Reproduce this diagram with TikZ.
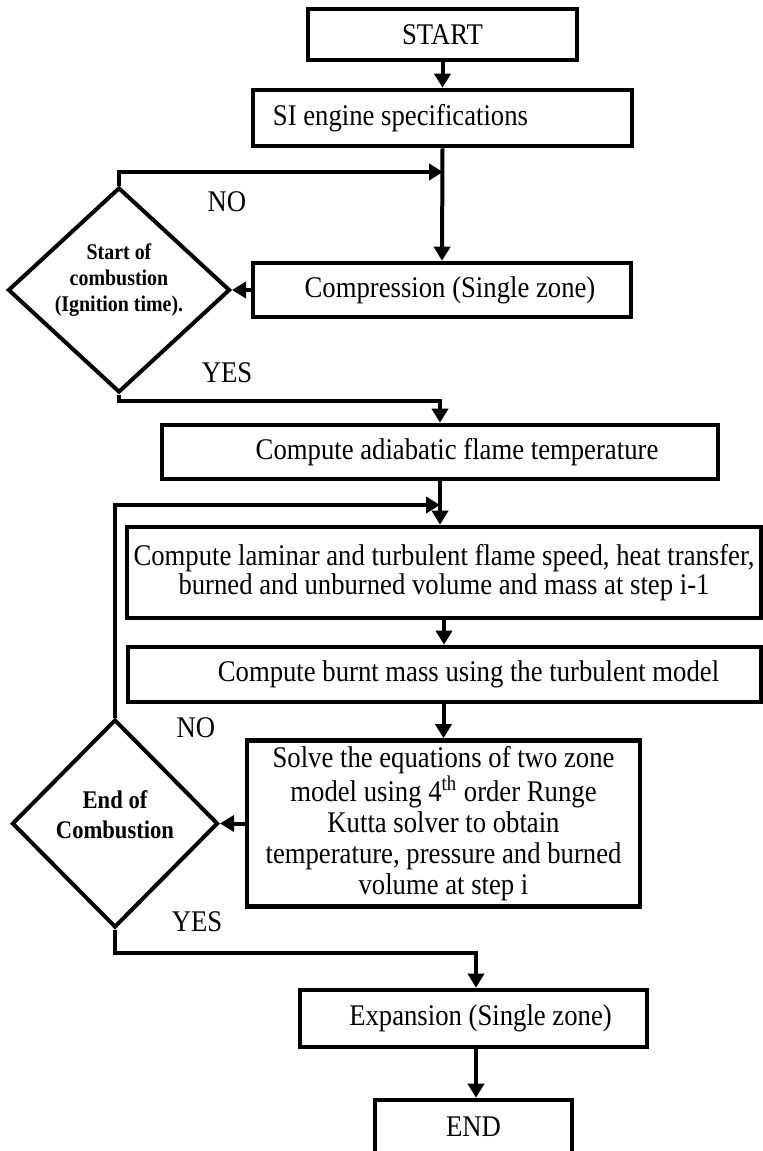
\documentclass[tikz,border=0pt]{standalone}
\usepackage{fontspec}
\setmainfont{Liberation Serif}[FakeStretch=0.89]
\usetikzlibrary{shapes.geometric,arrows.meta}

\begin{document}
\begin{tikzpicture}[x=0.5pt,y=-0.5pt,
	stepbox/.style={draw,line width=2.3pt,rectangle,inner sep=0pt,align=center,font=\fontsize{15}{15.5}\selectfont},
	decide/.style={draw,line width=2pt,diamond,inner sep=0pt},
	decidetext/.style={align=center,inner sep=0pt,font=\bfseries\fontsize{11.2}{13}\selectfont},
	arr/.style={line width=2pt,-{Triangle[length=7pt,width=8pt]}},
	lbl/.style={font=\fontsize{15}{15.5}\selectfont}]
\useasboundingbox (0,0) rectangle (763,1151);
\clip (0,0) rectangle (763,1151);

\node[stepbox,minimum width=134.5pt,minimum height=25.5pt] (start) at (442.5,34.5) {START};
\node[stepbox,minimum width=189.5pt,minimum height=28pt] (spec) at (442.5,118) {SI engine specifications\hspace*{42pt}};
\node[stepbox,minimum width=189pt,minimum height=27pt] (comp) at (442,290) {\hspace*{8pt}Compression (Single zone)};
\node[decide,minimum width=111pt,minimum height=102.5pt] (d1) at (119,290) {};
\node[decidetext] (d1t) at (119,280) {Start of\\combustion\\(Ignition time).};
\node[stepbox,minimum width=278pt,minimum height=27pt] (adia) at (440,452) {\hspace*{17pt}Compute adiabatic flame temperature};
\node[stepbox,minimum width=317pt,minimum height=45.5pt,font=\fontsize{15}{14.5}\selectfont] (lam) at (444,572.5) {Compute laminar and turbulent flame speed, heat transfer,\\burned and unburned volume and mass at step i-1};
\node[stepbox,minimum width=316.5pt,minimum height=27.5pt] (burnt) at (444.5,674.5) {\hspace*{24pt}Compute burnt mass using the turbulent model};
\node[stepbox,minimum width=196.5pt,minimum height=83pt] (solve) at (443.5,823.5) {Solve the equations of two zone\\model using 4\textsuperscript{th} order Runge\\Kutta solver to obtain\\temperature, pressure and burned\\volume at step i};
\node[decide,minimum width=103pt,minimum height=104pt] (d2) at (115,823.5) {};
\node[decidetext,font=\bfseries\fontsize{12.7}{15}\selectfont] (d2t) at (115,815) {End of\\Combustion};
\node[stepbox,minimum width=173.5pt,minimum height=28.5pt] (expan) at (473.5,1018.5) {\hspace*{7pt}Expansion (Single zone)};
\node[stepbox,minimum width=98.5pt,minimum height=27pt] (endb) at (473.5,1127) {END};

\node[lbl] (no1) at (227,202) {NO};
\node[lbl] (yes1) at (227,373) {YES};
\node[lbl] (no2) at (196,728) {NO};
\node[lbl] (yes2) at (197,922) {YES};

\coordinate (m1) at (443,172);
\coordinate (y1) at (440,401);
\coordinate (m2) at (440,505);
\coordinate (y2) at (476,953);

\draw[arr] (start.south) -- (spec.north);
\draw[arr] (spec.south) -- (comp.north);
\draw[arr] (comp.west) -- (d1.east);
\draw[arr] (d1.north) |- (m1);
\draw[arr] (d1.south) |- (y1) -- (adia.north);
\draw[arr] (adia.south) -- (adia.south |- lam.north);
\draw[arr] (d2.north) |- (m2);
\draw[arr] (lam.south) -- (lam.south |- burnt.north);
\draw[arr] (solve.north |- burnt.south) -- (solve.north);
\draw[arr] (solve.west) -- (d2.east);
\draw[arr] (d2.south) |- (y2) -- (y2 |- expan.north);
\draw[arr] (expan.south -| y2) -- (endb.north -| y2);
\end{tikzpicture}
\end{document}
